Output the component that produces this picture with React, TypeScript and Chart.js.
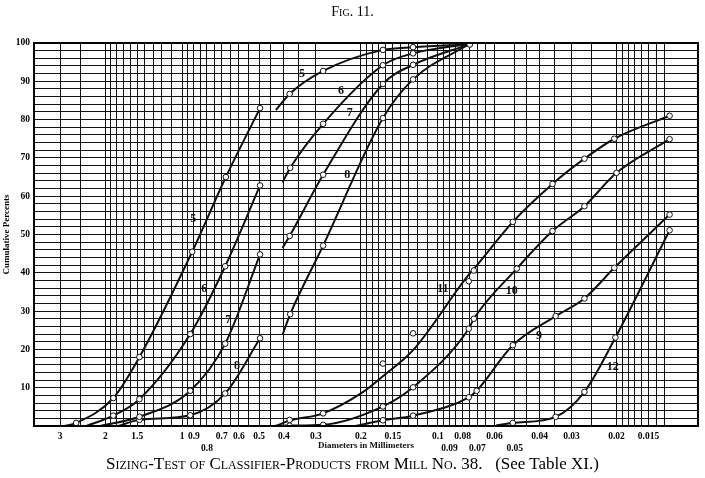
import React, { useEffect, useRef } from 'react';
import { Chart, registerables } from 'chart.js';

Chart.register(...registerables);

type P = [number, number];

// ---------- axis values ----------
const gridDiameters = [
  3, 2.5, 2, 1.9, 1.8, 1.7, 1.6, 1.5, 1.4, 1.3, 1.2, 1.1, 1, 0.95, 0.9, 0.85, 0.8, 0.75, 0.7, 0.65, 0.6,
  0.55, 0.5, 0.45, 0.4, 0.35, 0.3, 0.2, 0.19, 0.18, 0.17, 0.16, 0.15, 0.14, 0.13, 0.12, 0.11, 0.1, 0.095,
  0.09, 0.085, 0.08, 0.075, 0.07, 0.065, 0.06, 0.05, 0.045, 0.04, 0.035, 0.03, 0.025, 0.02, 0.019, 0.018,
  0.017, 0.016, 0.015, 0.014, 0.013,
];
const labelValues = [3, 2, 1.5, 1, 0.9, 0.8, 0.7, 0.6, 0.5, 0.4, 0.3, 0.2, 0.15, 0.1, 0.09, 0.08, 0.07, 0.06, 0.05, 0.04, 0.03, 0.02, 0.015];
const labelTexts = ['3', '2', '1.5', '1', '0.9', '0.8', '0.7', '0.6', '0.5', '0.4', '0.3', '0.2', '0.15', '0.1', '0.09', '0.08', '0.07', '0.06', '0.05', '0.04', '0.03', '0.02', '0.015'];
const lowerRowValues = [0.8, 0.09, 0.07, 0.05];

// ---------- series (diameter mm, cumulative percent) ----------
const s5aStart: P = [2.9, 0];
const s5aMarks: P[] = [[2.6, 0.8], [1.86, 7.3], [1.47, 18], [0.914, 45.5], [0.675, 65], [0.496, 83]];
const s5bStart: P = [0.43, 82.5];
const s5bMarks: P[] = [[0.38, 86.7], [0.281, 92.7], [0.164, 98.2], [0.125, 98.9], [0.075, 99.6]];

const s6aStart: P = [2.37, 0];
const s6aMarks: P[] = [[1.86, 2.7], [1.47, 7], [0.93, 24], [0.679, 41.7], [0.496, 62.8]];
const s6bStart: P = [0.405, 63.6];
const s6bMarks: P[] = [[0.378, 67.4], [0.281, 78.9], [0.164, 94.2], [0.125, 97.3], [0.075, 99.8]];

const s7aStart: P = [2.09, 0];
const s7aMarks: P[] = [[1.47, 2.4], [0.93, 9.2], [0.679, 21.5], [0.496, 44.8]];
const s7bStart: P = [0.405, 46.5];
const s7bMarks: P[] = [[0.38, 49.6], [0.281, 65.6], [0.164, 89.3], [0.125, 94.3], [0.075, 99.7]];

const s8aStart: P = [1.78, 0];
const s8aMarks: P[] = [[1.47, 1.6], [0.93, 2.8], [0.679, 8.5], [0.496, 22.9]];
const s8bStart: P = [0.405, 23.8];
const s8bMarks: P[] = [[0.378, 29.2], [0.281, 47.1], [0.164, 80.4], [0.125, 90.5], [0.075, 99.8]];

const s9Start: P = [0.21, 0];
const s9Marks: P[] = [[0.164, 1.5], [0.125, 2.7], [0.0757, 7.5], [0.0705, 9.2], [0.0509, 21.1], [0.0346, 28.7], [0.0267, 33.3], [0.0204, 41.3], [0.0124, 55.2]];

const s10Start: P = [0.44, 0];
const s10Marks: P[] = [[0.38, 0.1], [0.281, 0.3], [0.164, 5.1], [0.125, 10.1], [0.0757, 25.4], [0.0723, 28], [0.0491, 41.1], [0.0356, 50.9], [0.0267, 57.4], [0.02, 66.1], [0.0124, 74.9]];

const s11Line: P[] = [[0.43, 0], [0.38, 1.4], [0.281, 3.3], [0.2, 8.5], [0.164, 13], [0.125, 19.8], [0.0757, 39.5], [0.0723, 41], [0.0509, 53.3], [0.0356, 63.2], [0.0267, 69.8], [0.0204, 75], [0.0124, 81]];
const s11Marks: P[] = [[0.38, 1.6], [0.281, 3.3], [0.164, 16.3], [0.125, 24.2], [0.0757, 37.8], [0.0723, 40.6], [0.0509, 53.3], [0.0356, 63.2], [0.0267, 69.8], [0.0204, 75], [0.0124, 81]];

const s12Start: P = [0.059, 0.2];
const s12Marks: P[] = [[0.0509, 0.8], [0.0346, 2.4], [0.0267, 8.9], [0.0202, 23.1], [0.0124, 51.1]];

// ---------- curve number labels ----------
const curveLabelText = ['5', '6', '7', '8', '5', '6', '7', '8', '11', '10', '9', '12'];
const curveLabelDiam = [0.906, 0.82, 0.661, 0.61, 0.34, 0.239, 0.221, 0.226, 0.0956, 0.0514, 0.0402, 0.0207];
const curveLabelPct = [54.2, 35.9, 27.6, 15.6, 91.9, 87.5, 81.8, 65.6, 35.7, 35.2, 23.4, 15.4];

const segments: { line: P[]; marks: P[] }[] = [
  { line: [s5aStart, ...s5aMarks], marks: s5aMarks },
  { line: [s5bStart, ...s5bMarks], marks: s5bMarks },
  { line: [s6aStart, ...s6aMarks], marks: s6aMarks },
  { line: [s6bStart, ...s6bMarks], marks: s6bMarks },
  { line: [s7aStart, ...s7aMarks], marks: s7aMarks },
  { line: [s7bStart, ...s7bMarks], marks: s7bMarks },
  { line: [s8aStart, ...s8aMarks], marks: s8aMarks },
  { line: [s8bStart, ...s8bMarks], marks: s8bMarks },
  { line: [s9Start, ...s9Marks], marks: s9Marks },
  { line: [s10Start, ...s10Marks], marks: s10Marks },
  { line: s11Line, marks: s11Marks },
  { line: [s12Start, ...s12Marks], marks: s12Marks },
];

const INK = '#111';
const SERIF = '"Liberation Serif", "DejaVu Serif", serif';

const extrasPlugin = {
  id: 'extras',
  afterDatasetsDraw(chart: any) {
    const { ctx, scales } = chart;
    ctx.save();
    ctx.fillStyle = INK;
    ctx.font = `bold 12px ${SERIF}`;
    ctx.textAlign = 'center';
    ctx.textBaseline = 'middle';
    curveLabelText.forEach((t, i) => {
      const x = scales.x.getPixelForValue(curveLabelDiam[i]);
      const y = scales.y.getPixelForValue(curveLabelPct[i]);
      ctx.fillText(t, x, y);
    });
    ctx.restore();
  },
  afterDraw(chart: any) {
    const { ctx, chartArea } = chart;
    ctx.save();
    ctx.strokeStyle = '#000';
    ctx.lineWidth = 2;
    ctx.strokeRect(chartArea.left, chartArea.top, chartArea.right - chartArea.left, chartArea.bottom - chartArea.top);
    ctx.fillStyle = INK;
    ctx.font = `bold 9px ${SERIF}`;
    ctx.textAlign = 'center';
    ctx.textBaseline = 'middle';
    ctx.fillText('Diameters in Millimeters', (chartArea.left + chartArea.right) / 2, chartArea.bottom + 20);
    ctx.restore();
  },
};

export default function App() {
  const ref = useRef<HTMLCanvasElement | null>(null);

  useEffect(() => {
    if (!ref.current) return;
    const lineSets = segments.map((s) => ({
      data: s.line.map(([x, y]) => ({ x, y })),
      borderColor: INK,
      borderWidth: 2,
      pointRadius: 0,
      fill: false,
      cubicInterpolationMode: 'monotone' as const,
      order: 2,
    }));
    const markSets = segments.map((s) => ({
      data: s.marks.map(([x, y]) => ({ x, y })),
      showLine: false,
      pointRadius: 2.8,
      pointBackgroundColor: '#fff',
      pointBorderColor: INK,
      pointBorderWidth: 1,
      order: 1,
    }));
    const tickFont = { family: SERIF, size: 9.5, weight: 'bold' as const };
    const chart = new Chart(ref.current, {
      type: 'line',
      data: { datasets: [...lineSets, ...markSets] as any },
      options: {
        animation: false,
        responsive: false,
        layout: { padding: { top: 43, right: 7, bottom: 0, left: 0 } },
        plugins: { legend: { display: false }, tooltip: { enabled: false } },
        scales: {
          x: {
            type: 'logarithmic',
            reverse: true,
            min: 0.0096,
            max: 3.8,
            afterBuildTicks: (scale: any) => {
              scale.ticks = gridDiameters.map((v) => ({ value: v }));
            },
            afterFit: (scale: any) => {
              scale.height = 52;
            },
            grid: { color: '#111', lineWidth: 1, drawTicks: false },
            border: { display: true, color: '#000', width: 2 },
            ticks: {
              autoSkip: false,
              maxRotation: 0,
              minRotation: 0,
              padding: 5,
              color: '#000',
              font: tickFont,
              callback: (v: any) => {
                const val = Number(v);
                const i = labelValues.findIndex((lv) => Math.abs(lv - val) / lv < 1e-6);
                if (i < 0) return '';
                const lower = lowerRowValues.some((lv) => Math.abs(lv - val) / lv < 1e-6);
                return lower ? ['', labelTexts[i]] : labelTexts[i];
              },
            },
          },
          y: {
            min: 0,
            max: 100,
            afterFit: (scale: any) => {
              scale.width = 34;
            },
            grid: { color: '#111', lineWidth: 1, drawTicks: false },
            border: { display: true, color: '#000', width: 2 },
            title: {
              display: true,
              text: 'Cumulative Percents',
              color: '#000',
              font: { family: SERIF, size: 9, weight: 'bold' },
              padding: { top: 1, bottom: 0 },
            },
            ticks: {
              stepSize: 2,
              autoSkip: false,
              padding: 4,
              color: '#000',
              font: tickFont,
              callback: (v: any) => (Number(v) % 10 === 0 && Number(v) > 0 ? String(v) : ''),
            },
          },
        },
      },
      plugins: [extrasPlugin],
    });
    return () => chart.destroy();
  }, []);

  return (
    <div style={{ position: 'fixed', left: 0, top: 0, width: 705, height: 478, background: '#fff', overflow: 'hidden' }}>
      <canvas ref={ref} width={705} height={478} style={{ position: 'absolute', left: 0, top: 0, width: 705, height: 478 }} />
      <div
        style={{
          position: 'absolute', top: 3, left: 0, width: 705, textAlign: 'center',
          fontFamily: SERIF, fontSize: 14, fontVariant: 'small-caps', color: '#000', lineHeight: '18px',
        }}
      >
        Fig. 11.
      </div>
      <div
        style={{
          position: 'absolute', top: 454, left: 0, width: 705, textAlign: 'center',
          fontFamily: SERIF, fontSize: 17, color: '#000', lineHeight: '20px', whiteSpace: 'nowrap',
        }}
      >
        <span style={{ fontVariant: 'small-caps' }}>Sizing-Test of Classifier-Products from Mill No. 38.</span>
        {'\u00a0\u00a0\u00a0'}(See Table XI.)
      </div>
    </div>
  );
}
